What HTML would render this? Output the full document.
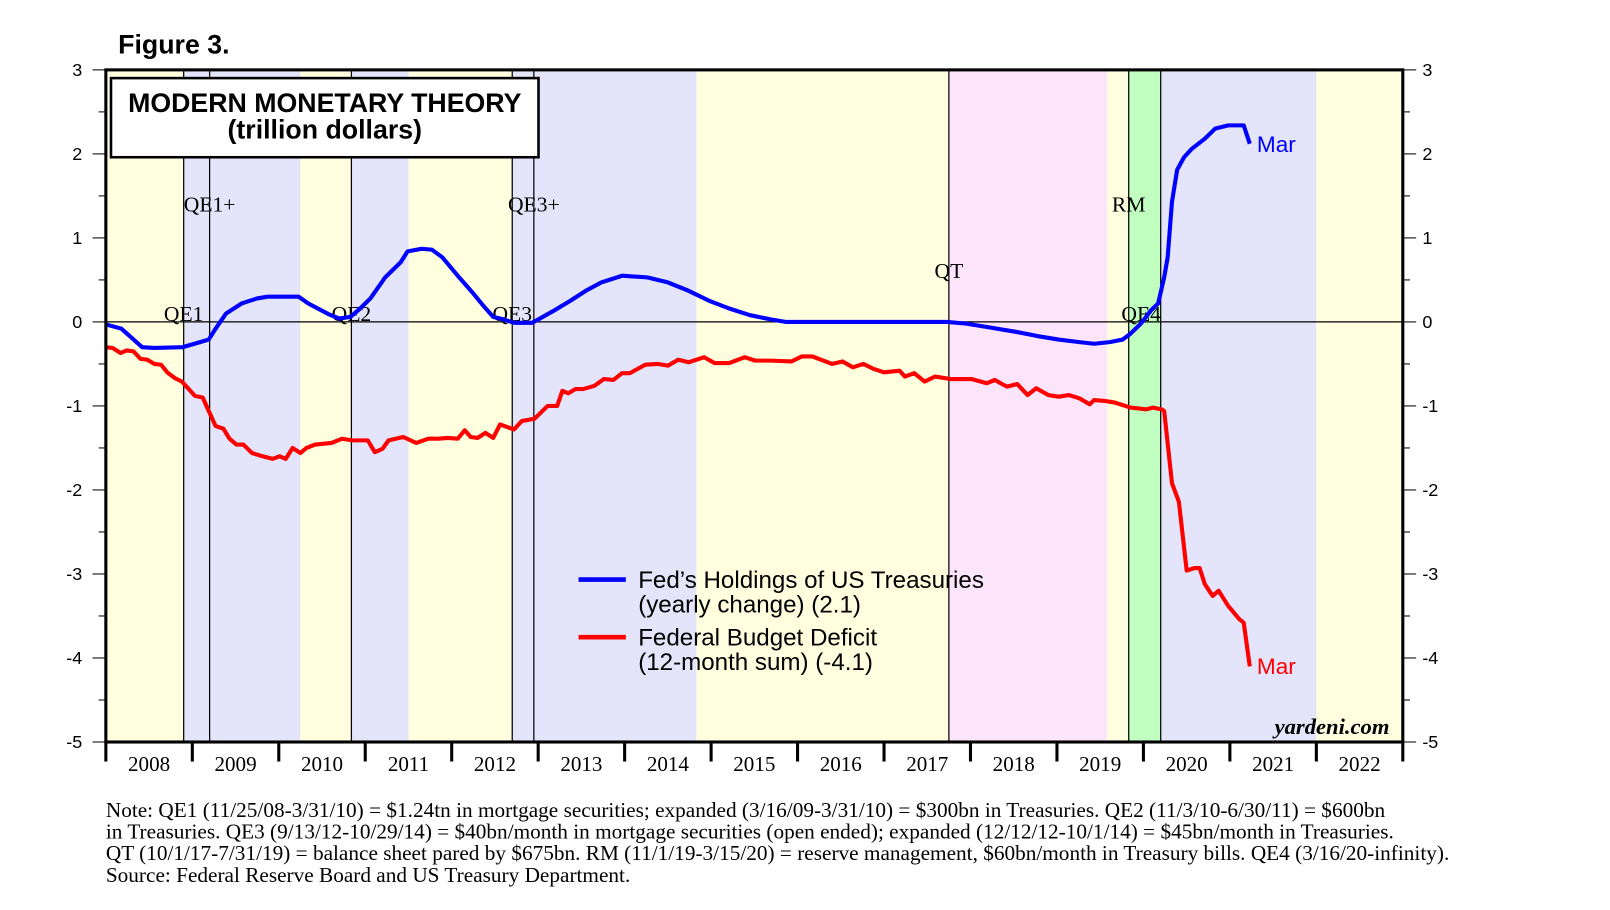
<!DOCTYPE html>
<html><head><meta charset="utf-8"><style>
body{margin:0;background:#fff;}
svg{display:block;}
.ser{font-family:"Liberation Serif",serif;}
.san{font-family:"Liberation Sans",sans-serif;}
</style></head><body>
<svg id="chart" width="1610" height="910" viewBox="0 0 1610 910">
<g transform="scale(1.0277)">
<g id="bands"></g>
<g id="vlines"></g>
<g id="series"></g>
<g id="axes"></g>
<text x="115" y="52" class="san" font-size="26" font-weight="bold">Figure 3.</text>
<rect x="108" y="76" width="416" height="77" fill="#fff" stroke="#000" stroke-width="2.5"/>
<text x="316" y="109" class="san" font-size="26" font-weight="bold" text-anchor="middle">MODERN MONETARY THEORY</text>
<text x="316" y="135" class="san" font-size="26" font-weight="bold" text-anchor="middle">(trillion dollars)</text>
<g>
<line x1="563" y1="564" x2="609" y2="564" stroke="#0000ff" stroke-width="4.5"/>
<text x="621" y="572" class="san" font-size="23.5">Fed’s Holdings of US Treasuries</text>
<text x="621" y="596" class="san" font-size="23.5">(yearly change) (2.1)</text>
<line x1="563" y1="620" x2="609" y2="620" stroke="#ff0000" stroke-width="4.5"/>
<text x="621" y="628" class="san" font-size="23.5">Federal Budget Deficit</text>
<text x="621" y="652" class="san" font-size="23.5">(12-month sum) (-4.1)</text>
</g>
<text x="1223" y="148" class="san" font-size="22" fill="#0000ff">Mar</text>
<text x="1223" y="656" class="san" font-size="22" fill="#ff0000">Mar</text>
<text x="1352" y="714" class="ser" font-size="22" font-weight="bold" font-style="italic" text-anchor="end">yardeni.com</text>
<g class="ser" font-size="20.7">
<text x="103" y="795">Note: QE1 (11/25/08-3/31/10) = $1.24tn in mortgage securities; expanded (3/16/09-3/31/10) = $300bn in Treasuries. QE2 (11/3/10-6/30/11) = $600bn</text>
<text x="103" y="816">in Treasuries. QE3 (9/13/12-10/29/14) = $40bn/month in mortgage securities (open ended); expanded (12/12/12-10/1/14) = $45bn/month in Treasuries.</text>
<text x="103" y="837">QT (10/1/17-7/31/19) = balance sheet pared by $675bn. RM (11/1/19-3/15/20) = reserve management, $60bn/month in Treasury bills. QE4 (3/16/20-infinity).</text>
<text x="103" y="858">Source: Federal Reserve Board and US Treasury Department.</text>
</g>
</g>
</svg>
<script>
const fedDates=[2008.00,2008.18,2008.42,2008.56,2008.89,2009.09,2009.19,2009.27,2009.39,2009.57,2009.75,2009.87,2010.23,2010.34,2010.58,2010.70,2010.83,2010.94,2011.06,2011.23,2011.41,2011.49,2011.65,2011.77,2011.89,2012.07,2012.24,2012.36,2012.48,2012.60,2012.72,2012.93,2013.02,2013.19,2013.37,2013.55,2013.73,2013.97,2014.26,2014.50,2014.74,2014.98,2015.21,2015.45,2015.69,2015.87,2016.28,2017.47,2017.73,2017.95,2018.19,2018.54,2018.78,2019.02,2019.26,2019.43,2019.61,2019.76,2019.85,2019.97,2020.09,2020.17,2020.24,2020.28,2020.33,2020.39,2020.47,2020.56,2020.71,2020.83,2020.98,2021.16,2021.23];
const fedValues=[-0.03,-0.08,-0.30,-0.31,-0.30,-0.24,-0.21,-0.08,0.10,0.22,0.28,0.30,0.30,0.22,0.09,0.04,0.06,0.16,0.28,0.53,0.71,0.84,0.87,0.86,0.77,0.55,0.35,0.20,0.06,0.03,-0.01,-0.01,0.04,0.14,0.25,0.37,0.47,0.55,0.53,0.47,0.37,0.25,0.16,0.08,0.03,0,0,0,0,-0.02,-0.06,-0.12,-0.17,-0.21,-0.24,-0.26,-0.24,-0.21,-0.14,-0.02,0.14,0.22,0.53,0.77,1.43,1.81,1.96,2.06,2.18,2.30,2.34,2.34,2.12];
const defDates=[2008.00,2008.08,2008.17,2008.24,2008.32,2008.40,2008.48,2008.56,2008.64,2008.71,2008.80,2008.88,2008.95,2009.03,2009.12,2009.19,2009.27,2009.36,2009.43,2009.51,2009.59,2009.69,2009.78,2009.93,2010.01,2010.08,2010.16,2010.25,2010.32,2010.42,2010.61,2010.73,2010.85,2011.03,2011.11,2011.20,2011.27,2011.44,2011.59,2011.73,2011.85,2011.95,2012.07,2012.15,2012.22,2012.30,2012.39,2012.48,2012.56,2012.72,2012.81,2012.96,2013.11,2013.22,2013.28,2013.35,2013.43,2013.52,2013.65,2013.76,2013.87,2013.97,2014.06,2014.24,2014.38,2014.50,2014.62,2014.74,2014.92,2015.04,2015.21,2015.39,2015.51,2015.69,2015.93,2016.05,2016.17,2016.40,2016.52,2016.64,2016.76,2016.88,2017.00,2017.18,2017.24,2017.35,2017.47,2017.59,2017.77,2018.01,2018.19,2018.28,2018.42,2018.54,2018.66,2018.76,2018.90,2019.02,2019.14,2019.26,2019.38,2019.43,2019.55,2019.67,2019.85,2020.03,2020.11,2020.21,2020.24,2020.33,2020.41,2020.50,2020.59,2020.65,2020.71,2020.80,2020.87,2020.98,2021.11,2021.16,2021.23];
const defValues=[-0.30,-0.31,-0.37,-0.34,-0.35,-0.44,-0.45,-0.50,-0.51,-0.60,-0.67,-0.71,-0.79,-0.88,-0.90,-1.06,-1.24,-1.27,-1.39,-1.46,-1.46,-1.56,-1.59,-1.63,-1.60,-1.63,-1.50,-1.56,-1.50,-1.46,-1.44,-1.39,-1.41,-1.41,-1.55,-1.51,-1.41,-1.37,-1.44,-1.39,-1.39,-1.38,-1.39,-1.29,-1.37,-1.38,-1.32,-1.38,-1.22,-1.28,-1.18,-1.15,-1.00,-1.00,-0.82,-0.85,-0.80,-0.80,-0.76,-0.68,-0.69,-0.61,-0.61,-0.51,-0.50,-0.52,-0.45,-0.48,-0.42,-0.49,-0.49,-0.42,-0.46,-0.46,-0.47,-0.41,-0.41,-0.50,-0.47,-0.54,-0.50,-0.56,-0.60,-0.58,-0.65,-0.61,-0.71,-0.65,-0.68,-0.68,-0.73,-0.69,-0.77,-0.74,-0.87,-0.79,-0.87,-0.89,-0.87,-0.91,-0.98,-0.93,-0.94,-0.96,-1.02,-1.04,-1.02,-1.04,-1.06,-1.92,-2.14,-2.96,-2.93,-2.93,-3.12,-3.26,-3.20,-3.38,-3.54,-3.58,-4.10];
const yTicks=[3,2,1,0,-1,-2,-3,-4,-5];
const yearLabels=[2008,2009,2010,2011,2012,2013,2014,2015,2016,2017,2018,2019,2020,2021,2022];
const bandStarts=[2008,2008.9,2010.25,2010.84,2011.5,2012.7,2014.83,2017.75,2019.58,2019.83,2020.2,2022];
const bandEnds=[2008.9,2010.25,2010.84,2011.5,2012.7,2014.83,2017.75,2019.58,2019.83,2020.2,2022,2023];
const bandKinds=["y","l","y","l","y","l","y","p","y","g","l","y"];
const eventDates=[2008.9,2009.2,2010.84,2012.7,2012.95,2017.75,2019.83,2020.2];
const eventLabels=["QE1","QE1+","QE2","QE3","QE3+","QT","RM","QE4"];
const eventLabelVals=[0.05,1.35,0.05,0.05,1.35,0.56,1.35,0.05];

const L=103,R=1365,T=68,B=722;
const x=d=>L+(d-2008)*(R-L)/15;
const y=v=>T+(3-v)*(B-T)/8;
const NS="http://www.w3.org/2000/svg";
function mk(tag,attrs,parent){const e=document.createElementNS(NS,tag);for(const k in attrs)e.setAttribute(k,attrs[k]);parent.appendChild(e);return e;}
const colors={y:"#ffffe0",l:"#e4e4fa",p:"#fce4fa",g:"#c0ffc0"};
const gB=document.getElementById("bands");
bandStarts.forEach((s,i)=>{const r=mk("rect",{x:x(s),y:T,width:Math.min(x(bandEnds[i]),R)-x(s),height:B-T,fill:colors[bandKinds[i]]},gB);

});
const gV=document.getElementById("vlines");
mk("line",{x1:L,y1:y(0),x2:R,y2:y(0),stroke:"#000","stroke-width":1.2},gV);
eventDates.forEach((d,i)=>{const l=mk("line",{x1:x(d),y1:T,x2:x(d),y2:B,stroke:"#000","stroke-width":1.2},gV);


const t=mk("text",{x:x(d)+(eventLabels[i]==="QE4"?-19:0),y:y(eventLabelVals[i])+3,"text-anchor":"middle","font-size":21,"font-family":"Liberation Serif,serif"},gV);
t.textContent=eventLabels[i];

});
const gS=document.getElementById("series");
function path(ds,vs){return ds.map((d,i)=>(i?"L":"M")+x(d).toFixed(1)+","+y(vs[i]).toFixed(1)).join("");}
const pf=mk("path",{d:path(fedDates,fedValues),fill:"none",stroke:"#0000ff","stroke-width":4,"stroke-linejoin":"round"},gS);


const pd=mk("path",{d:path(defDates,defValues),fill:"none",stroke:"#ff0000","stroke-width":4,"stroke-linejoin":"round"},gS);


const gA=document.getElementById("axes");
mk("rect",{x:L,y:T,width:R-L,height:B-T,fill:"none",stroke:"#000","stroke-width":3},gA);
for(let v=3;v>=-5;v-=0.5){const maj=Number.isInteger(v);
mk("line",{x1:L-(maj?13:7),y1:y(v),x2:L,y2:y(v),stroke:"#000","stroke-width":1},gA);
mk("line",{x1:R,y1:y(v),x2:R+(maj?13:7),y2:y(v),stroke:"#000","stroke-width":1},gA);}
yTicks.forEach(v=>{const a=mk("text",{x:80,y:y(v)+6,"text-anchor":"end","font-size":17.5,"font-family":"Liberation Sans,sans-serif"},gA);a.textContent=v;


const b=mk("text",{x:1384,y:y(v)+6,"font-size":17.5,"font-family":"Liberation Sans,sans-serif"},gA);b.textContent=v;

});
for(let yr=2008;yr<=2023;yr++){mk("line",{x1:x(yr),y1:B,x2:x(yr),y2:B+19,stroke:"#000","stroke-width":3},gA);}
yearLabels.forEach(yr=>{const t=mk("text",{x:x(yr+0.5),y:750,"text-anchor":"middle","font-size":20.5,"font-family":"Liberation Serif,serif"},gA);t.textContent=yr;

});
</script>
</body></html>
